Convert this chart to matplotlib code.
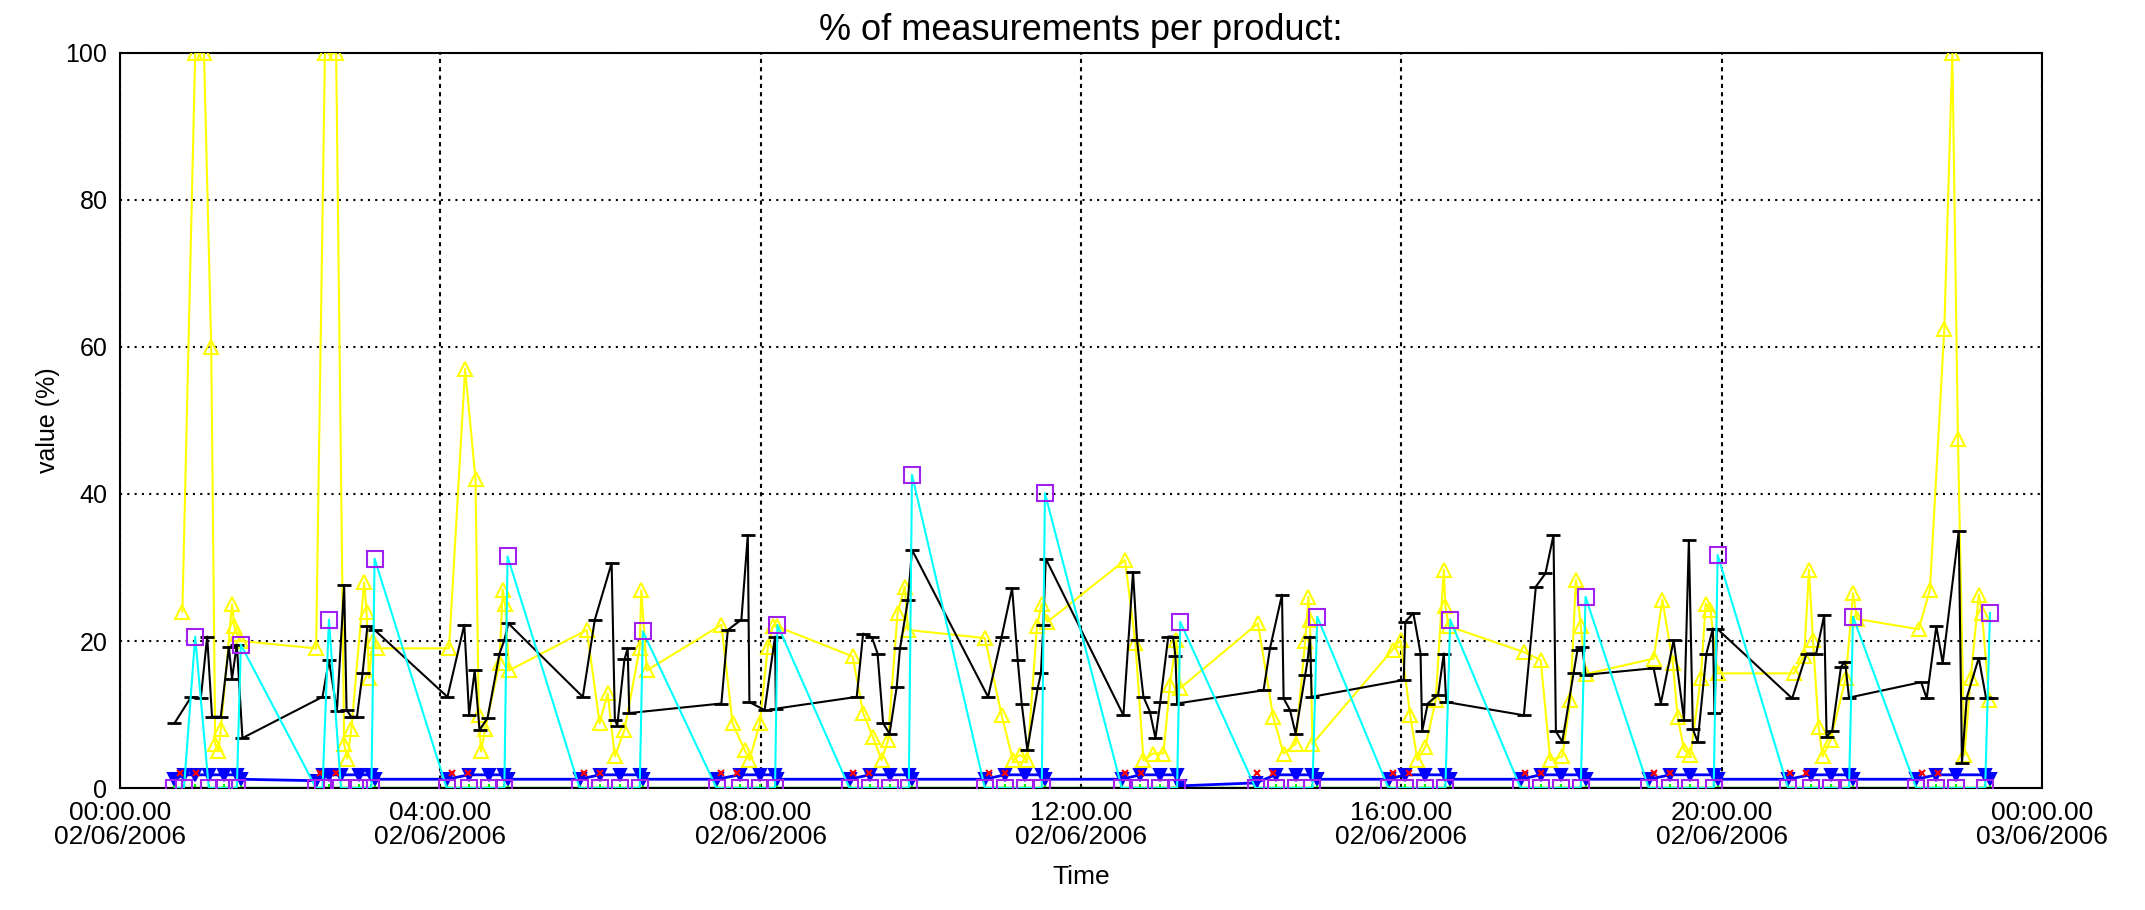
import matplotlib
matplotlib.use("Agg")
import matplotlib.pyplot as plt

plt.rcParams['font.family'] = ['Liberation Sans', 'DejaVu Sans']

# time in hours since 00:00 02/06/2006
yellow_t = [0.78, 0.94, 1.05, 1.14, 1.19, 1.23, 1.26, 1.40, 1.43, 1.46, 1.51,
            2.45, 2.56, 2.70, 2.80, 2.84, 2.89, 3.05, 3.08, 3.11, 3.16, 3.21,
            4.11, 4.31, 4.44, 4.48, 4.51, 4.56, 4.74, 4.78, 4.81, 4.86,
            5.83, 5.99, 6.09, 6.18, 6.30, 6.49, 6.51, 6.58,
            7.51, 7.65, 7.80, 7.86, 7.99, 8.09, 8.15, 8.20,
            9.15, 9.28, 9.40, 9.51, 9.59, 9.71, 9.80, 9.84,
            10.80, 11.01, 11.15, 11.24, 11.33, 11.45, 11.51, 11.58,
            12.55, 12.68, 12.78, 12.90, 13.03, 13.11, 13.19, 13.24,
            14.21, 14.40, 14.53, 14.68, 14.80, 14.84, 14.86, 14.89,
            15.89, 15.99, 16.11, 16.20, 16.30, 16.43, 16.53, 16.55, 16.59,
            17.53, 17.74, 17.86, 18.01, 18.11, 18.18, 18.24, 18.30,
            19.15, 19.26, 19.39, 19.45, 19.53, 19.61, 19.74, 19.80, 19.86, 19.95,
            20.90, 21.03, 21.09, 21.14, 21.21, 21.26, 21.36, 21.55, 21.64, 21.69,
            22.46, 22.60, 22.78, 22.88, 22.95, 23.03, 23.11, 23.21, 23.25, 23.34]
yellow_v = [24, 100, 100, 60, 6, 5, 8, 25, 22, 21, 20,
            19, 100, 100, 6, 4, 8, 28, 24, 15, 20, 19,
            19, 57, 42, 10, 5, 8, 17, 27, 25, 16,
            21.5, 8.8, 12.9, 4.3, 7.9, 19, 26.9, 16,
            22.2, 8.8, 5.2, 3.8, 8.8, 19.2, 22, 22,
            17.9, 10.2, 7, 3.8, 6.5, 23.8, 27.4, 21.5,
            20.4, 9.9, 3.8, 4.5, 3.8, 22, 25.1, 22.6,
            31, 19.7, 3.8, 4.7, 4.7, 14, 20.1, 13.6,
            22.4, 9.7, 4.7, 6, 20, 26, 22.9, 6,
            18.8, 20.1, 10, 3.8, 5.6, 12, 29.7, 24.7, 22,
            18.5, 17.4, 3.8, 4.3, 12, 28.3, 22, 15.5,
            17.6, 25.6, 17, 9.7, 5.2, 4.5, 15, 25.1, 24.2, 15.6,
            15.6, 18, 29.7, 20.1, 8.3, 4.3, 6.5, 15, 26.5, 23,
            21.6, 27, 62.5, 100, 47.5, 4.5, 15, 26.3, 23.8, 12]

black_t = [0.68, 0.89, 1.01, 1.09, 1.15, 1.26, 1.36, 1.40, 1.46, 1.53,
           2.53, 2.61, 2.71, 2.80, 2.83, 2.89, 2.96, 3.03, 3.09, 3.18,
           4.09, 4.30, 4.36, 4.43, 4.49, 4.59, 4.74, 4.80, 4.85,
           5.78, 5.93, 6.14, 6.18, 6.21, 6.30, 6.34, 6.36,
           7.51, 7.59, 7.76, 7.84, 7.86, 8.05, 8.18, 8.19,
           9.20, 9.28, 9.39, 9.46, 9.53, 9.61, 9.70, 9.74, 9.84, 9.89,
           10.84, 11.01, 11.14, 11.21, 11.26, 11.33, 11.46, 11.50, 11.53, 11.56,
           12.53, 12.65, 12.70, 12.78, 12.86, 12.93, 12.99, 13.09, 13.15, 13.18, 13.20,
           14.28, 14.36, 14.51, 14.53, 14.61, 14.68, 14.80, 14.83, 14.86, 14.88,
           16.03, 16.05, 16.15, 16.24, 16.26, 16.33, 16.46, 16.53, 16.56,
           17.53, 17.68, 17.80, 17.90, 17.93, 18.01, 18.15, 18.20, 18.26, 18.30,
           19.15, 19.24, 19.40, 19.53, 19.59, 19.64, 19.70, 19.81, 19.89, 19.91, 19.94,
           20.88, 21.06, 21.18, 21.28, 21.31, 21.38, 21.49, 21.54, 21.59,
           22.49, 22.56, 22.68, 22.76, 22.96, 23.00, 23.06, 23.21, 23.30, 23.36]
black_v = [8.8, 12.4, 12.2, 20.6, 9.7, 9.7, 19.2, 14.9, 19.5, 6.8,
           12.4, 17.4, 10.5, 27.6, 10.6, 9.7, 9.7, 15.6, 22, 21.5,
           12.4, 22.2, 10, 16, 7.9, 9.5, 18.3, 20.1, 22.4,
           12.4, 22.9, 30.6, 9.3, 8.5, 17.5, 19, 10.2,
           11.5, 21.5, 22.9, 34.4, 11.7, 10.6, 20.6, 10.8,
           12.4, 21, 20.5, 18.3, 8.8, 7.4, 13.8, 19, 25.6, 32.4,
           12.4, 20.6, 27.2, 17.4, 11.5, 5.2, 13.6, 15.6, 22.2, 31.2,
           9.9, 29.4, 20.1, 12.4, 10.4, 6.8, 11.7, 20.6, 20.6, 17.9, 11.5,
           13.3, 19, 26.3, 12.2, 10.6, 7.4, 15.4, 17.4, 20.6, 12.4,
           14.7, 22.6, 23.8, 18.3, 7.7, 11.5, 12.7, 18.3, 11.7,
           9.9, 27.4, 29.2, 34.4, 7.7, 6.3, 15.6, 18.8, 19.2, 15.4,
           16.3, 11.5, 20.1, 9.3, 33.7, 8, 6.3, 18.3, 21.7, 10.2, 21.7,
           12.2, 18.3, 18.3, 23.5, 7, 7.8, 16.5, 17.2, 12.3,
           14.4, 12.2, 22, 17, 34.9, 3.4, 12.3, 17.7, 12.3, 12.3]

cyan_t = [0.68, 0.80, 0.94, 1.11, 1.30, 1.46, 1.51,
          2.45, 2.53, 2.61, 2.76, 2.99, 3.14, 3.18,
          4.08, 4.36, 4.61, 4.80, 4.84,
          5.74, 5.99, 6.24, 6.49, 6.53,
          7.45, 7.74, 7.99, 8.18, 8.21,
          9.11, 9.36, 9.61, 9.85, 9.89,
          10.80, 11.05, 11.30, 11.51, 11.55,
          12.51, 12.74, 12.99, 13.20, 13.24,
          14.18, 14.43, 14.68, 14.89, 14.95,
          15.84, 16.05, 16.30, 16.55, 16.61,
          17.49, 17.74, 17.99, 18.24, 18.30,
          19.09, 19.36, 19.61, 19.90, 19.95,
          20.83, 21.11, 21.36, 21.59, 21.64,
          22.43, 22.68, 22.93, 23.29, 23.35]
cyan_v = [0, 0, 20.6, 0, 0, 0, 19.5,
          0, 0, 22.9, 0, 0, 0, 31.2,
          0, 0, 0, 0, 31.5,
          0, 0, 0, 0, 21.3,
          0, 0, 0, 0, 22.2,
          0, 0, 0, 0, 42.6,
          0, 0, 0, 0, 40.1,
          0, 0, 0, 0, 22.6,
          0, 0, 0, 0, 23.3,
          0, 0, 0, 0, 22.9,
          0, 0, 0, 0, 26,
          0, 0, 0, 0, 31.7,
          0, 0, 0, 0, 23.3,
          0, 0, 0, 0, 23.8]

blue_v = [1.2, 1.8, 1.8, 1.8, 1.8, 1.8, 1.2,
          1.0, 1.8, 1.8, 1.8, 1.8, 1.8, 1.2,
          1.2, 1.8, 1.8, 1.8, 1.2,
          1.2, 1.8, 1.8, 1.8, 1.2,
          1.2, 1.8, 1.8, 1.8, 1.2,
          1.2, 1.8, 1.8, 1.8, 1.2,
          1.2, 1.8, 1.8, 1.8, 1.2,
          1.2, 1.8, 1.8, 1.8, 0.3,
          0.7, 1.8, 1.8, 1.8, 1.2,
          1.2, 1.8, 1.8, 1.8, 1.2,
          1.2, 1.8, 1.8, 1.8, 1.2,
          1.2, 1.8, 1.8, 1.8, 1.2,
          1.2, 1.8, 1.8, 1.8, 1.2,
          1.2, 1.8, 1.8, 1.8, 1.2]

red_t = [0.75, 0.95, 2.50, 2.70, 4.15, 4.35, 5.80, 6.00, 7.50, 7.70,
         9.15, 9.35, 10.85, 11.05, 12.55, 12.75, 14.20, 14.40, 15.90, 16.10,
         17.55, 17.75, 19.15, 19.35, 20.85, 21.05, 22.50, 22.70]
red_v = [2.0] * len(red_t)

green_v = [0] * len(cyan_t)

hour_ticks = [0, 4, 8, 12, 16, 20, 24]
hour_labels = ['00:00.00\n02/06/2006', '04:00.00\n02/06/2006', '08:00.00\n02/06/2006',
               '12:00.00\n02/06/2006', '16:00.00\n02/06/2006', '20:00.00\n02/06/2006',
               '00:00.00\n03/06/2006']

fig = plt.figure(figsize=(21.45, 9.10), dpi=100)
ax = fig.add_axes([0.0559, 0.134, 0.8961, 0.808])

ax.plot(cyan_t, green_v, color='#00ff00', lw=2.5, marker='+', ms=6, mew=1.5, zorder=2)
ax.plot(cyan_t, blue_v, color='#0000ff', lw=2, marker='v', ms=8, mew=1.5,
        markerfacecolor='#0000ff', zorder=2)
ax.plot(red_t, red_v, color='#ff0000', ls='none', marker='x', ms=5, mew=1.5, zorder=3)
ax.plot(yellow_t, yellow_v, color='#ffff00', lw=1.5, marker='^', ms=10, mew=1.5,
        fillstyle='none', zorder=4)
ax.plot(black_t, black_v, color='black', lw=1.5, marker='_', ms=10, mew=2, zorder=5)
ax.plot(cyan_t, cyan_v, color='#00ffff', lw=1.5, marker='s', ms=12, mew=1.5,
        markerfacecolor='none', markeredgecolor='#a020f0', zorder=6)

ax.set_xlim(0, 24)
ax.set_ylim(0, 100)
ax.set_xticks(hour_ticks)
ax.set_xticklabels(hour_labels, linespacing=1.0)
ax.set_yticks([0, 20, 40, 60, 80, 100])
ax.tick_params(axis='both', length=0, labelsize=19, pad=9)
ax.tick_params(axis='y', labelsize=18)

ax.set_axisbelow(True)
ax.xaxis.grid(True, color='black', lw=1.5, linestyle=(0, (2, 2)))
ax.yaxis.grid(True, color='black', lw=1.5, linestyle=(0, (1, 2.5)))
for sp in ax.spines.values():
    sp.set_linewidth(1.5)

ax.set_title('% of measurements per product:', fontsize=26, pad=9)
ax.set_xlabel('Time', fontsize=19, labelpad=12)
ax.set_ylabel('value (%)', fontsize=18, labelpad=4)

fig.savefig('out.png', dpi=100)
